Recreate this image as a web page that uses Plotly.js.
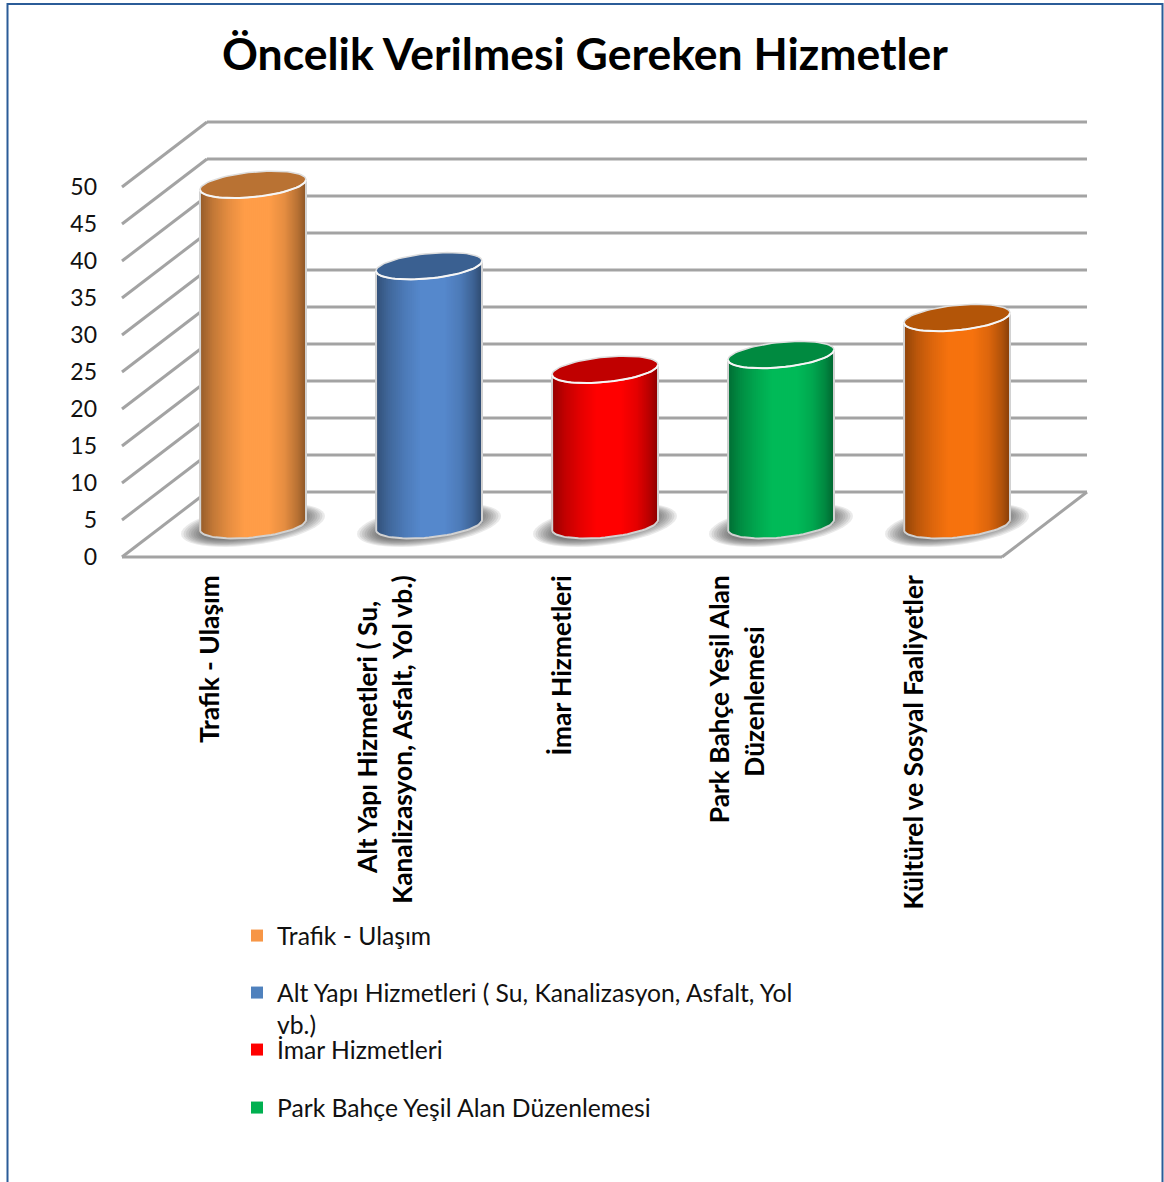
<!DOCTYPE html>
<html><head><meta charset="utf-8">
<script src="https://cdn.plot.ly/plotly-3.0.1.min.js"></script>
<style>html,body{margin:0;padding:0;background:#fff;overflow:hidden}#c{width:1164px;height:1182px}</style>
</head><body><div id="c"></div>
<script>
const categories = ["Trafik - Ulaşım","Alt Yapı Hizmetleri ( Su, Kanalizasyon, Asfalt, Yol vb.)","İmar Hizmetleri","Park Bahçe Yeşil Alan Düzenlemesi","Kültürel ve Sosyal Faaliyetler"];
const values = [46, 35, 21, 23, 28];
const tickLabels = ["Trafik - Ulaşım","Alt Yapı Hizmetleri ( Su,\u00a0\u00a0\u00a0\u00a0<br>Kanalizasyon, Asfalt, Yol vb.)","İmar Hizmetleri","Park Bahçe Yeşil Alan<br>Düzenlemesi\u00a0\u00a0\u00a0\u00a0\u00a0\u00a0\u00a0\u00a0","Kültürel ve Sosyal Faaliyetler"];
const yTicks = [0,5,10,15,20,25,30,35,40,45,50];
const colors = [[247,150,70],[79,129,189],[255,0,0],[0,176,80],[244,112,14]];
const bodyColors = [[255,157,72],[85,136,204],[255,0,0],[0,186,88],[246,114,14]];
const capColors = ["#b97233","#3a6091","#c00000","#008a40","#b35508"];
const legendName = ["Trafik - Ulaşım","Alt Yapı Hizmetleri ( Su, Kanalizasyon, Asfalt, Yol<br>vb.)","İmar Hizmetleri","Park Bahçe Yeşil Alan Düzenlemesi"];

const FONT = "Lato, 'Open Sans', sans-serif";
const PXX = 176, PXY = 7.4;
const dX = 85/PXX, dY = 65/PXY;          // depth of the floor
const cX = 43/PXX, baseY = 32/PXY;       // cylinder centre relative to the front
const rX = 53/PXX, rY = 12.5/PXY, tilt = 5/PXY;
const left = -0.5, right = 4.5;
const L = 110, R = 1100, T = 112, B = 565;
const N = 53;
const rgb = (c,f)=>`rgb(${c.map(v=>Math.round(v*f)).join(",")})`;
function shade(u){
  const pts=[[-1,.58],[-.75,.76],[-.45,.9],[-.15,1],[.3,1],[.6,.9],[.85,.72],[1,.55]];
  for(let i=1;i<pts.length;i++) if(u<=pts[i][0]){
    const t=(u-pts[i-1][0])/(pts[i][0]-pts[i-1][0]);
    return pts[i-1][1]+t*(pts[i][1]-pts[i-1][1]);
  }
  return .55;
}
const traces=[];
// one series bar for each category (carries name and legend)
categories.forEach((c,i)=>{
  const lg = i<4;
  traces.push({type:"bar",x:[i],y:[values[i]],base:[baseY],width:[rX*.8],offset:[cX-rX*.4],
    name:lg?legendName[i]:c,showlegend:lg,legend:i===0?"legend":"legend"+(i+1),
    marker:{color:rgb(colors[i],1),line:{width:0}},hoverinfo:"name+y"});
});
// cylinder shading strips
const sw = 2*rX/N;
for(let k=0;k<N;k++){
  const u=-1+(k+.5)*2/N;
  traces.push({type:"bar",x:values.map((_,i)=>i),y:values,
    base:values.map(()=>baseY+tilt*u-rY*Math.sqrt(1-u*u)),
    width:sw*1.35,offset:cX+rX*u-sw*.675,showlegend:false,hoverinfo:"skip",
    marker:{color:bodyColors.map(c=>rgb(c,shade(u))),line:{width:0}}});
}
// outline and cap
const ts=[];for(let a=0;a<=72;a++)ts.push(a*Math.PI/36);
values.forEach((v,i)=>{
  const cx=i+cX, top=baseY+v;
  const bu=[];for(let a=0;a<=36;a++)bu.push(-Math.cos(a*Math.PI/36));
  traces.push({type:"scatter",mode:"lines",showlegend:false,hoverinfo:"skip",
    x:[cx-rX,...bu.map(u=>cx+rX*u),cx+rX],
    y:[top-tilt,...bu.map(u=>baseY+tilt*u-rY*Math.sqrt(1-u*u)),top+tilt],
    line:{color:"#d2d2d2",width:2}});
  traces.push({type:"scatter",mode:"lines",showlegend:false,hoverinfo:"skip",fill:"toself",fillcolor:capColors[i],
    x:ts.map(t=>cx+rX*Math.cos(t)),y:ts.map(t=>top+tilt*Math.cos(t)+rY*Math.sin(t)),
    line:{color:"#dedede",width:1.5}});
  traces.push({type:"scatter",mode:"lines",showlegend:false,hoverinfo:"skip",
    x:bu.map(u=>cx+rX*u),y:bu.map(u=>top+tilt*u-rY*Math.sqrt(1-u*u)),
    line:{color:"#f6f6f6",width:2}});
});
// walls, floor and shadows
const GRID="#a3a3a3", GW=3;
const ln=(x0,y0,x1,y1)=>({type:"line",layer:"below",xref:"x",yref:"y",x0,y0,x1,y1,line:{color:GRID,width:GW}});
const shapes=[];
yTicks.forEach(k=>{
  shapes.push(ln(left+dX,k+dY,right+dX,k+dY));
  shapes.push(ln(left,k,left+dX,k+dY));
});
shapes.push(ln(left,0,right,0));
shapes.push(ln(right,0,right+dX,dY));
values.forEach((v,i)=>{
  for(let r=0;r<9;r++){
    const ax=(72-r*2.5)/PXX, ay=(20-r*1)/PXY, sk=9/PXY;
    let p="";
    for(let a=0;a<48;a++){
      const t=a*Math.PI/24, cu=Math.cos(t);
      p+=(a?"L":"M")+(i+cX+ax*cu).toFixed(4)+","+(baseY+sk*cu+ay*Math.sin(t)).toFixed(4);
    }
    shapes.push({type:"path",layer:"below",xref:"x",yref:"y",path:p+"Z",
      fillcolor:"#404040",opacity:.11,line:{width:0}});
  }
});
// chart frame
const W=R-L,H=B-T;
const px=p=>(p-L)/W, py=p=>1-(p-T)/H;
shapes.push({type:"rect",xref:"paper",yref:"paper",x0:px(7.5),x1:px(1162.5),y0:py(1300),y1:py(4),line:{color:"#2b5c98",width:2},layer:"below"});

const lgd=(yp)=>({x:px(237),y:py(yp),xanchor:"left",yanchor:"top",bgcolor:"rgba(0,0,0,0)",borderwidth:0,valign:"top",
  font:{family:FONT,size:24.7,color:"#111"},itemclick:false,itemdoubleclick:false,tracegroupgap:0});
const layout={
  width:1164,height:1182,margin:{l:L,r:1164-R,t:T,b:1182-B,pad:0},
  paper_bgcolor:"#fff",plot_bgcolor:"rgba(0,0,0,0)",barmode:"overlay",hovermode:"closest",
  title:{text:"<b>Öncelik Verilmesi Gereken Hizmetler</b>",x:585/1164,xanchor:"center",y:1-54/1182,yanchor:"middle",
    font:{family:FONT,size:44.5,color:"#000"}},
  xaxis:{range:[left-(122-L)/PXX,left+(R-122)/PXX],tickmode:"array",tickvals:values.map((_,i)=>i),ticktext:tickLabels.map(t=>"<b>"+t.replace("<br>","</b><br><b>")+"</b>"),
    tickangle:-90,showgrid:false,zeroline:false,showline:false,ticks:"",ticklabelstandoff:4,
    tickfont:{family:FONT,size:26.3,color:"#000"},fixedrange:true},
  yaxis:{range:[-(B-557)/PXY,(557-T)/PXY],tickmode:"array",tickvals:yTicks,ticktext:yTicks.map(String),
    showgrid:false,zeroline:false,showline:false,ticks:"",ticklabelstandoff:12,
    tickfont:{family:FONT,size:23,color:"#111"},fixedrange:true},
  legend:lgd(913),legend2:lgd(970),legend3:lgd(1027),legend4:lgd(1085),
  shapes,
  showlegend:true
};
Plotly.newPlot("c",traces,layout,{displayModeBar:false,responsive:false});
</script></body></html>
